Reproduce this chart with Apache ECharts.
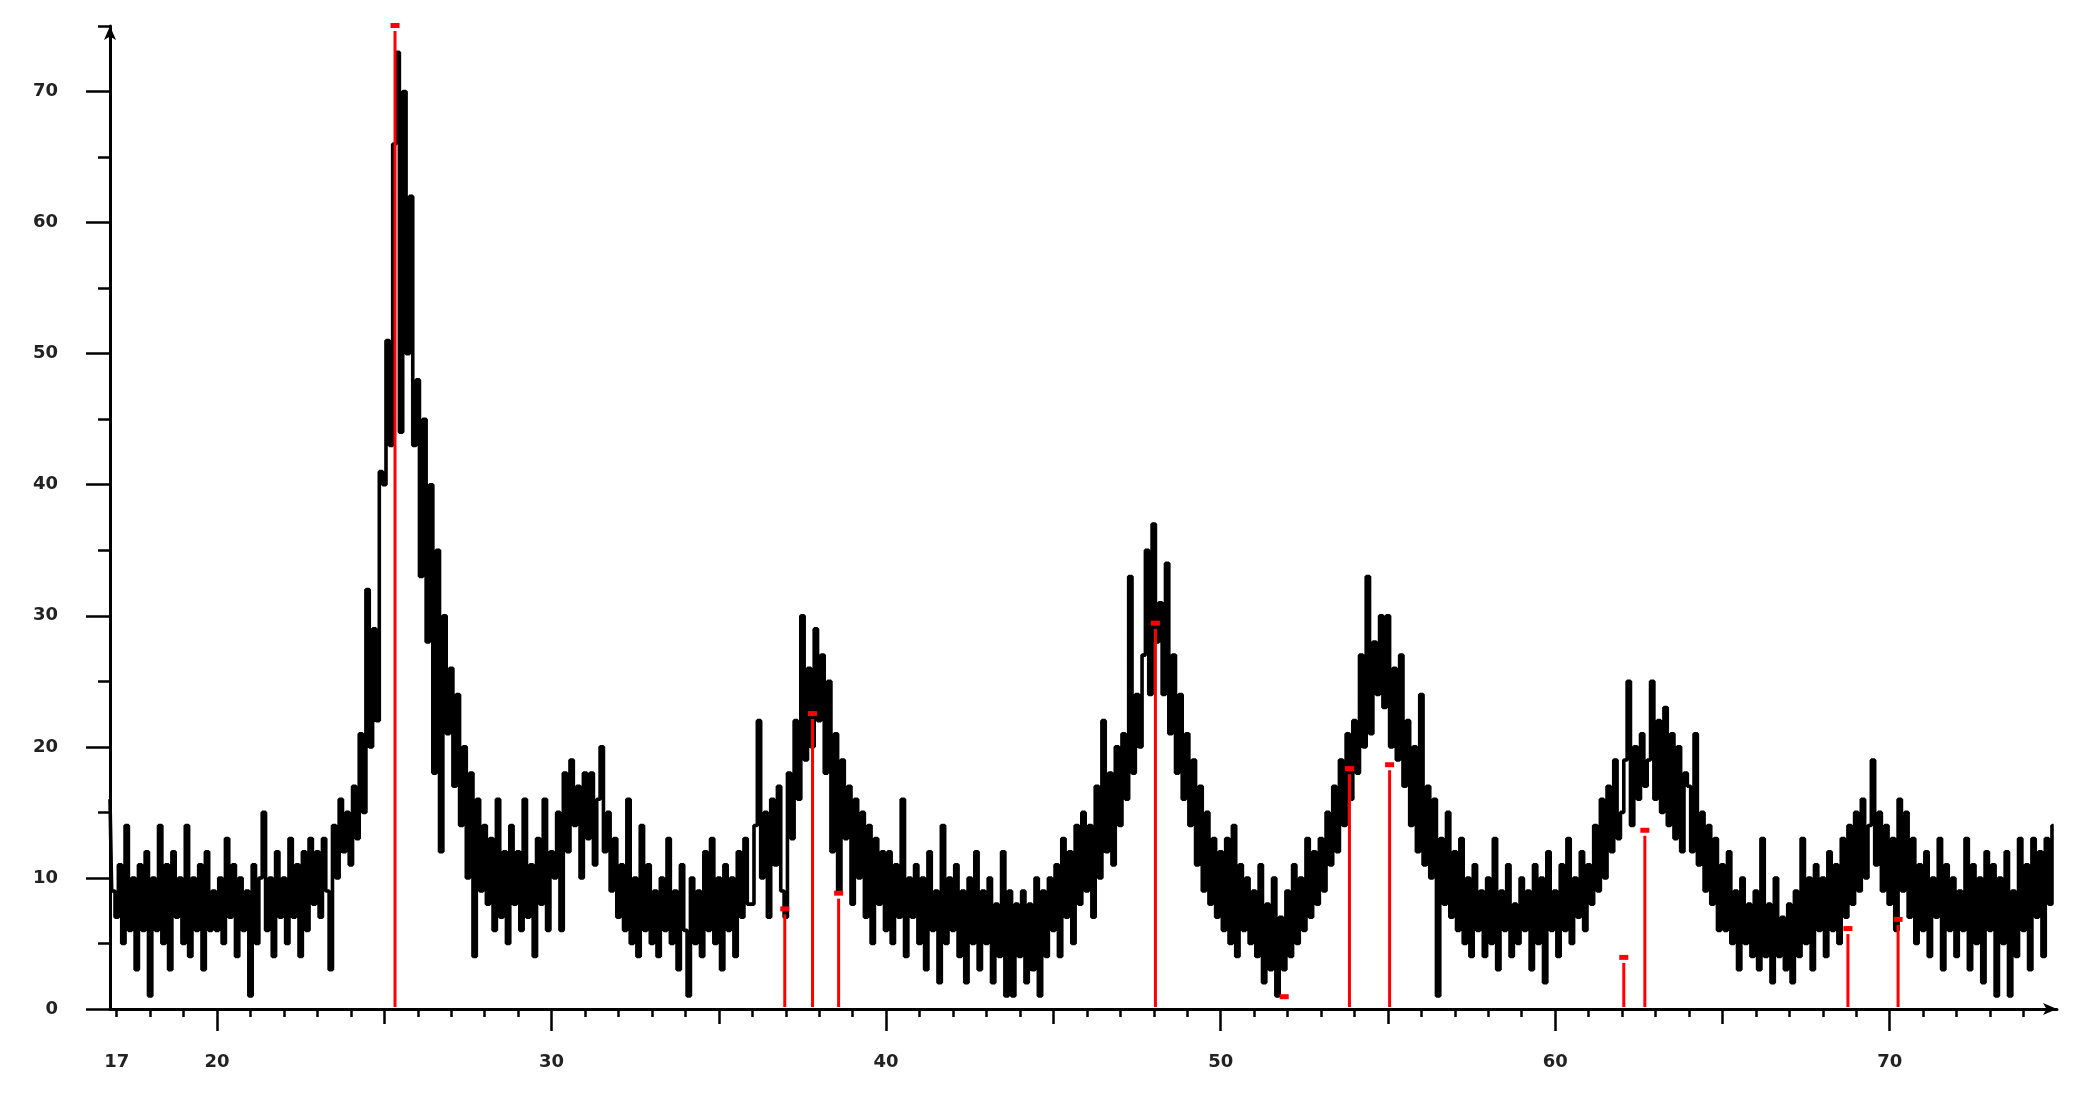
<!DOCTYPE html>
<html>
<head>
<meta charset="utf-8">
<title>XRD</title>
<script src="https://cdn.jsdelivr.net/npm/echarts@6/dist/echarts.min.js"></script>
<style>
  html, body { margin: 0; padding: 0; background: #fff; }
  #chart { width: 2082px; height: 1099px; }
</style>
</head>
<body>
<div id="chart"></div>
<script>
// scan: 2theta from 16.8 in 0.1 deg steps, intensity
const thetaStart = 16.8;
const thetaStep = 0.1;
const intensity = [
  16, 9,
  7, 11, 5, 14, 6, 10, 3, 11, 6, 12,      // 17
  1, 10, 6, 14, 5, 11, 3, 12, 7, 10,      // 18
  5, 14, 4, 10, 6, 11, 3, 12, 6, 9,       // 19
  6, 10, 5, 13, 7, 11, 4, 10, 6, 9,       // 20
  1, 11, 5, 10, 15, 6, 10, 4, 12, 7,      // 21
  10, 5, 13, 7, 11, 4, 12, 6, 13, 8,      // 22
  12, 7, 13, 9, 3, 14, 10, 16, 12, 15,    // 23
  11, 17, 13, 21, 15, 32, 20, 29, 22, 41, // 24
  40, 51, 43, 66, 73, 44, 70, 50, 62, 43, // 25
  48, 33, 45, 28, 40, 18, 35, 12, 30, 21, // 26
  26, 17, 24, 14, 20, 10, 18, 4, 16, 9,   // 27
  14, 8, 13, 6, 16, 7, 12, 5, 14, 8,      // 28
  12, 6, 16, 7, 11, 4, 13, 8, 16, 6,      // 29
  12, 10, 15, 6, 18, 12, 19, 14, 17, 10,  // 30
  18, 13, 18, 11, 16, 20, 12, 15, 9, 13,  // 31
  7, 11, 6, 16, 5, 10, 4, 14, 6, 11,      // 32
  5, 9, 4, 10, 6, 13, 5, 9, 3, 11,        // 33
  6, 1, 10, 5, 9, 4, 12, 6, 13, 5,        // 34
  10, 3, 11, 6, 10, 4, 12, 7, 13, 8,      // 35
  8, 14, 22, 10, 15, 7, 16, 11, 17, 9,    // 36
  7, 18, 13, 22, 16, 30, 19, 26, 20, 29,  // 37
  22, 27, 18, 25, 12, 21, 9, 19, 13, 17,  // 38
  8, 16, 10, 15, 7, 14, 5, 13, 8, 12,     // 39
  6, 12, 5, 11, 7, 16, 4, 10, 7, 11,      // 40
  5, 10, 3, 12, 6, 9, 2, 14, 5, 10,       // 41
  6, 11, 4, 9, 2, 10, 5, 12, 3, 9,        // 42
  5, 10, 2, 8, 4, 12, 1, 9, 1, 8,         // 43
  4, 9, 2, 8, 3, 10, 1, 9, 4, 10,         // 44
  6, 11, 4, 13, 7, 12, 5, 14, 8, 15,      // 45
  9, 14, 7, 17, 10, 22, 12, 18, 11, 20,   // 46
  14, 21, 16, 33, 18, 24, 20, 27, 35, 24, // 47
  37, 28, 31, 24, 34, 21, 27, 18, 24, 16, // 48
  21, 14, 19, 11, 17, 9, 15, 8, 13, 7,    // 49
  12, 6, 13, 5, 14, 4, 11, 6, 10, 5,      // 50
  9, 4, 11, 2, 8, 3, 10, 1, 7, 3,         // 51
  9, 4, 11, 5, 10, 6, 13, 7, 12, 8,       // 52
  13, 9, 15, 11, 17, 12, 19, 14, 21, 16,  // 53
  22, 18, 27, 20, 33, 21, 28, 24, 30, 23, // 54
  30, 20, 26, 19, 27, 17, 22, 14, 20, 12, // 55
  24, 11, 17, 10, 16, 1, 13, 8, 15, 7,    // 56
  12, 6, 13, 5, 10, 4, 11, 6, 9, 4,       // 57
  10, 5, 13, 3, 9, 6, 11, 4, 8, 5,        // 58
  10, 6, 9, 3, 11, 5, 10, 2, 12, 6,       // 59
  9, 4, 11, 6, 13, 5, 10, 7, 12, 6,       // 60
  11, 8, 14, 9, 16, 10, 17, 12, 19, 13,   // 61
  15, 19, 25, 14, 20, 16, 21, 17, 19, 25, // 62
  16, 22, 15, 23, 14, 21, 13, 20, 12, 18, // 63
  17, 12, 21, 11, 15, 9, 14, 8, 13, 6,    // 64
  11, 6, 12, 5, 9, 3, 10, 5, 8, 4,        // 65
  9, 3, 13, 4, 8, 2, 10, 4, 7, 3,         // 66
  8, 2, 9, 4, 13, 5, 10, 3, 11, 6,        // 67
  10, 4, 12, 6, 11, 5, 13, 7, 14, 8,      // 68
  15, 9, 16, 10, 14, 19, 11, 15, 9, 14,   // 69
  8, 13, 6, 16, 9, 15, 7, 13, 5, 11,      // 70
  6, 12, 4, 10, 7, 13, 3, 11, 6, 10,      // 71
  4, 9, 6, 13, 3, 11, 5, 10, 2, 12,       // 72
  6, 11, 1, 10, 5, 12, 1, 9, 4, 13,       // 73
  6, 11, 3, 13, 7, 12, 4, 13, 8, 14       // 74
];

// reference pattern (red sticks)
const refPos = [25.32, 36.97, 37.80, 38.58, 48.05, 51.90, 53.85, 55.05, 62.05, 62.68, 68.75, 70.25];
const refInt = [75, 7.6, 22.5, 8.8, 29.4, 0.9, 18.3, 18.6, 3.9, 13.6, 6.1, 6.8];

// axis ticks / labels
const xLabels = [17, 20, 30, 40, 50, 60, 70];
const xMinorTicks = [];
for (let t = 17; t <= 74; t++) xMinorTicks.push(t);
const xMidTicks = [25, 35, 45, 55, 65];
const xMajorTicks = [20, 30, 40, 50, 60, 70];
const yMinorTicks = [5, 15, 25, 35, 45, 55, 65, 75];
const yMajorTicks = [0, 10, 20, 30, 40, 50, 60, 70];

const scan = intensity.map((v, i) => [Number((thetaStart + i * thetaStep).toFixed(2)), v]);
const sticks = refPos.map((p, i) => [p, refInt[i]]);

const chart = echarts.init(document.getElementById('chart'));
const labelFont = { fontFamily: 'DejaVu Sans', fontSize: 18, fontWeight: 'bold', color: '#222' };
const tickLine = { color: '#000', width: 2.5 };
const xCommon = { type: 'value', min: 16.8, max: 75, position: 'bottom', splitLine: { show: false } };
const yCommon = { type: 'value', min: 0, max: 75, position: 'left', splitLine: { show: false } };

chart.setOption({
  animation: false,
  backgroundColor: '#fff',
  grid: { left: 110, right: 25, top: 26, bottom: 90 },
  xAxis: [
    Object.assign({}, xCommon, {
      axisLine: { show: true, symbol: ['none', 'arrow'], symbolSize: [9, 14], lineStyle: { color: '#000', width: 3 } },
      axisTick: { show: true, customValues: xMinorTicks, length: 8, lineStyle: tickLine },
      axisLabel: Object.assign({ customValues: xLabels, margin: 44 }, labelFont)
    }),
    Object.assign({}, xCommon, {
      axisLine: { show: false },
      axisTick: { show: true, customValues: xMidTicks, length: 15, lineStyle: tickLine },
      axisLabel: { show: false }
    }),
    Object.assign({}, xCommon, {
      axisLine: { show: false },
      axisTick: { show: true, customValues: xMajorTicks, length: 22, lineStyle: tickLine },
      axisLabel: { show: false }
    })
  ],
  yAxis: [
    Object.assign({}, yCommon, {
      axisLine: { show: true, symbol: ['none', 'arrow'], symbolSize: [9, 14], lineStyle: { color: '#000', width: 3 } },
      axisTick: { show: true, customValues: yMinorTicks, length: 12, lineStyle: tickLine },
      axisLabel: Object.assign({ customValues: yMajorTicks, margin: 52 }, labelFont)
    }),
    Object.assign({}, yCommon, {
      axisLine: { show: false },
      axisTick: { show: true, customValues: yMajorTicks, length: 24, lineStyle: tickLine },
      axisLabel: { show: false }
    })
  ],
  series: [
    {
      name: 'scan',
      type: 'line',
      step: 'middle',
      showSymbol: false,
      symbol: 'none',
      data: scan,
      lineStyle: { color: '#000', width: 3.6 },
      z: 2
    },
    {
      name: 'reference',
      type: 'custom',
      data: sticks,
      z: 5,
      renderItem: (params, api) => {
        const base = api.coord([api.value(0), 0]);
        const top = api.coord([api.value(0), api.value(1)]);
        const kids = [{
          type: 'rect',
          shape: { x: top[0] - 4.5, y: top[1] - 3, width: 9, height: 5 },
          style: { fill: '#ff0000' }
        }];
        if (base[1] - top[1] > 20) {
          kids.push({
            type: 'line',
            shape: { x1: top[0], y1: top[1] + 5, x2: base[0], y2: base[1] - 2 },
            style: { stroke: '#ff0000', lineWidth: 3 }
          });
        }
        return { type: 'group', children: kids };
      }
    }
  ]
});
</script>
</body>
</html>
